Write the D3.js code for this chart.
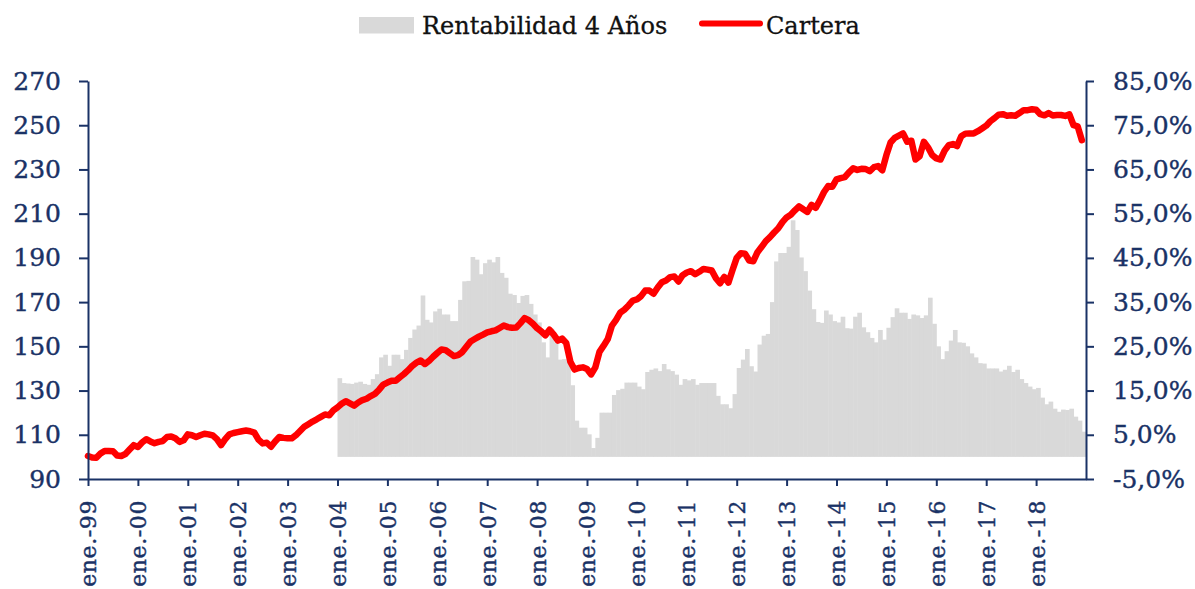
<!DOCTYPE html>
<html>
<head>
<meta charset="utf-8">
<script src="https://cdn.jsdelivr.net/npm/d3@7"></script>
<style>
  body { margin: 0; background: #fff; }
</style>
</head>
<body>
<script>
// etiquetas del eje x (una por año, enero)
var tickLabels = ["ene.-99","ene.-00","ene.-01","ene.-02","ene.-03","ene.-04","ene.-05","ene.-06","ene.-07","ene.-08",
                  "ene.-09","ene.-10","ene.-11","ene.-12","ene.-13","ene.-14","ene.-15","ene.-16","ene.-17","ene.-18"];

// Cartera, valor mensual (eje izquierdo), ene.-99 .. dic.-18
var cartera = [
  100.4, 99.7, 99.6, 101.5, 102.7, 102.7, 102.6, 100.6, 100.4, 101.3, 103.3, 105.3,
  104.5, 106.5, 108.0, 107.0, 106.2, 106.8, 107.2, 109.0, 109.2, 108.4, 106.8, 107.5,
  110.2, 109.8, 109.0, 109.8, 110.5, 110.2, 109.7, 108.0, 105.3, 108.0, 110.2, 110.8,
  111.2, 111.6, 111.9, 111.6, 111.0, 107.8, 106.1, 106.4, 104.6, 107.0, 109.0, 108.6,
  108.4, 108.4, 109.8, 111.7, 113.6, 114.8, 116.0, 117.0, 118.1, 119.2, 118.8, 121.0,
  122.4, 124.0, 125.2, 124.2, 123.2, 124.6, 125.7, 126.3, 127.5, 128.5, 130.4, 132.7,
  133.6, 134.4, 134.4, 136.0, 137.5, 139.2, 141.2, 142.6, 143.6, 142.0, 143.4, 145.3,
  147.0, 148.6, 148.3, 146.9, 145.6, 146.0, 147.4, 149.8, 152.2, 153.3, 154.4, 155.3,
  156.3, 156.8, 157.2, 158.3, 159.4, 158.7, 158.4, 158.5, 160.5, 162.8, 161.8, 160.2,
  158.2, 156.8, 155.0, 157.5, 155.3, 152.6, 153.5, 151.5, 143.0, 139.5, 140.2, 140.5,
  139.7, 137.3, 140.5, 147.5, 150.3, 153.3, 159.4, 162.0, 165.2, 166.6, 168.5, 170.7,
  171.2, 172.7, 175.2, 175.2, 173.8, 176.6, 179.0, 179.8, 181.3, 181.6, 179.3, 182.2,
  183.4, 184.0, 182.6, 183.7, 185.0, 184.7, 184.3, 180.8, 178.5, 181.4, 178.8, 184.5,
  190.0, 192.1, 191.9, 188.8, 188.5, 192.6, 195.0, 197.6, 199.4, 201.5, 203.4, 206.2,
  208.3, 209.5, 211.5, 213.3, 212.0, 210.8, 214.0, 212.6, 216.0, 219.8, 222.5, 222.2,
  225.5, 226.1, 226.5, 228.7, 230.5, 229.8, 230.3, 230.2, 229.2, 231.0, 231.5, 229.6,
  236.5, 242.2, 244.3, 245.3, 246.3, 242.5, 243.0, 234.5, 236.0, 242.5, 240.0, 236.5,
  235.0, 234.5, 238.5, 241.0, 241.5, 240.6, 245.0, 246.2, 246.3, 246.3, 247.3, 248.5,
  249.8, 251.8, 253.2, 254.8, 255.0, 254.3, 254.5, 254.3, 255.5, 256.8, 256.8, 257.2,
  257.0, 255.0, 254.5, 255.5, 254.4, 254.6, 254.6, 254.2, 254.9, 250.0, 249.5, 243.2
];

// Rentabilidad 4 años (%), eje derecho, desde ene.-04
var rentStart = "ene.-04";
var rentabilidad = [
  17.8, 16.7, 16.6, 16.5, 16.8, 17.0, 16.5, 16.3, 17.6, 18.7, 22.5, 23.1,
  20.6, 23.1, 23.1, 22.1, 24.2, 26.9, 28.8, 29.7, 36.5, 31.0, 30.4, 32.9,
  33.5, 32.2, 32.2, 30.7, 30.7, 35.5, 39.7, 39.8, 45.2, 44.6, 41.3, 43.8,
  44.6, 44.0, 45.2, 41.6, 40.5, 36.9, 36.6, 34.8, 36.4, 36.6, 34.6, 32.2,
  30.4, 25.9, 22.5, 29.0, 25.9, 22.0, 22.1, 21.8, 16.2, 8.2, 6.6, 6.6,
  5.1, 2.0, 4.3, 10.0, 10.0, 10.0, 14.0, 15.1, 15.4, 16.8, 16.8, 16.8,
  15.9, 15.3, 19.2, 19.7, 20.0, 19.4, 21.0, 19.8, 19.4, 18.6, 16.3, 17.6,
  17.3, 17.6, 16.3, 16.7, 16.7, 16.7, 16.7, 13.8, 11.9, 11.9, 11.0, 14.2,
  20.1, 22.0, 24.4, 20.5, 19.3, 25.4, 27.4, 27.8, 35.0, 44.2, 46.1, 46.1,
  47.5, 53.5, 51.3, 45.1, 42.0, 37.6, 33.4, 30.5, 30.3, 33.1, 32.2, 30.7,
  30.4, 31.7, 29.1, 29.0, 31.7, 32.6, 29.3, 28.2, 26.9, 25.9, 28.7, 26.5,
  29.2, 31.6, 33.6, 32.6, 32.6, 31.2, 32.2, 32.0, 31.4, 32.0, 36.0, 30.1,
  25.0, 22.1, 23.9, 26.3, 28.7, 25.9, 25.8, 25.0, 23.4, 22.5, 21.2, 21.1,
  20.0, 20.0, 20.0, 19.3, 19.7, 20.6, 19.2, 19.7, 17.6, 16.7, 15.9, 15.3,
  15.6, 13.4, 11.9, 12.5, 10.9, 10.2, 10.7, 10.6, 10.9, 9.1, 8.2, 5.7
];

var w = 1195;
var h = 589;
var navy = "#1a3266";
var serif = "'DejaVu Serif', serif";

var svg = d3.select("body")
  .append("svg")
  .attr("width", w)
  .attr("height", h);

var x = d3.scaleLinear().domain([0, cartera.length]).range([88, 1086]);
var yL = d3.scaleLinear().domain([90, 270]).range([479, 81]);
var yR = d3.scaleLinear().domain([-5, 85]).range([479, 81]);

var off = tickLabels.indexOf(rentStart) * 12;
var step = x(1) - x(0);

// barras grises
svg.append("g")
  .selectAll("rect")
  .data(rentabilidad)
  .enter()
  .append("rect")
  .attr("x", function(d, i) { return x(i + off); })
  .attr("width", step + 0.5)
  .attr("y", function(d) { return yR(d); })
  .attr("height", function(d) { return yR(0) - yR(d); })
  .attr("fill", "#d9d9d9");

// linea roja
var line = d3.line()
  .x(function(d, i) { return x(i); })
  .y(function(d) { return yL(d); });

svg.append("path")
  .datum(cartera)
  .attr("d", line)
  .attr("fill", "none")
  .attr("stroke", "#ff0000")
  .attr("stroke-width", 6.5)
  .attr("stroke-linejoin", "round")
  .attr("stroke-linecap", "round");

// ejes
function styleAxis(g, size) {
  g.selectAll(".domain").attr("stroke", navy).attr("stroke-width", 2);
  g.selectAll(".tick line").attr("stroke", navy).attr("stroke-width", 2);
  g.selectAll("text")
    .attr("fill", navy)
    .attr("stroke", navy)
    .attr("stroke-width", 0.4)
    .style("font-family", serif)
    .style("font-size", size + "px");
}

var gL = svg.append("g")
  .attr("transform", "translate(88,0)")
  .call(d3.axisLeft(yL).tickValues(d3.range(90, 271, 20)).tickSize(9).tickPadding(18).tickSizeOuter(0));
styleAxis(gL, 25);

var gR = svg.append("g")
  .attr("transform", "translate(1086,0)")
  .call(d3.axisRight(yR)
    .tickValues(d3.range(-5, 86, 10))
    .tickSize(8)
    .tickPadding(19)
    .tickSizeOuter(0)
    .tickFormat(function(d) { return d.toFixed(1).replace(".", ",") + "%"; }));
styleAxis(gR, 25);

var gB = svg.append("g")
  .attr("transform", "translate(0,479)")
  .call(d3.axisBottom(x)
    .tickValues(d3.range(0, cartera.length, 12))
    .tickSize(7)
    .tickSizeOuter(0)
    .tickFormat(function(d, i) { return tickLabels[i]; }));
styleAxis(gB, 22);
gB.selectAll("text")
  .attr("transform", "rotate(-90)")
  .attr("text-anchor", "end")
  .attr("x", -21)
  .attr("y", 0)
  .attr("dy", "0.36em")
  .style("letter-spacing", "0.6px");

// leyenda
svg.append("rect")
  .attr("x", 359).attr("y", 17)
  .attr("width", 55).attr("height", 16.5)
  .attr("fill", "#d9d9d9");
svg.append("text")
  .attr("x", 422).attr("y", 34)
  .text("Rentabilidad 4 Años")
  .style("font-family", serif)
  .style("font-size", "24px")
  .attr("fill", "#111")
  .attr("stroke", "#111")
  .attr("stroke-width", 0.3);
svg.append("line")
  .attr("x1", 702).attr("y1", 23.5)
  .attr("x2", 760).attr("y2", 23.5)
  .attr("stroke", "#ff0000")
  .attr("stroke-width", 6)
  .attr("stroke-linecap", "round");
svg.append("text")
  .attr("x", 766).attr("y", 34)
  .text("Cartera")
  .style("font-family", serif)
  .style("font-size", "24px")
  .attr("fill", "#111")
  .attr("stroke", "#111")
  .attr("stroke-width", 0.3);
</script>
</body>
</html>
